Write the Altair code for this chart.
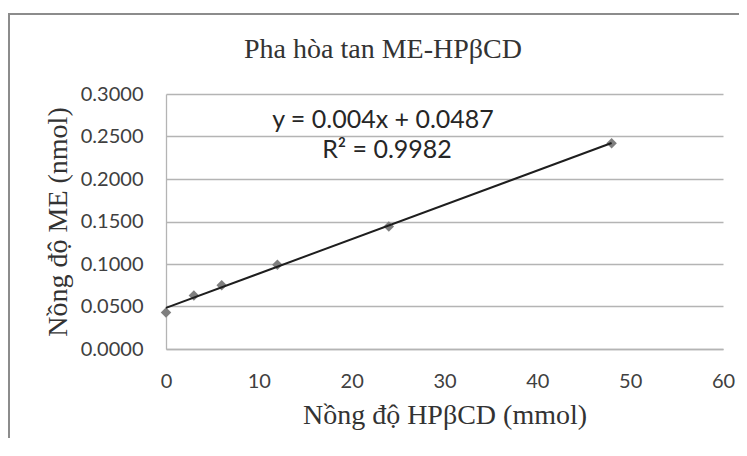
import altair as alt
import pandas as pd

# ---- data ----
x_vals = [0, 3, 6, 12, 24, 48]
y_vals = [0.043, 0.063, 0.075, 0.099, 0.144, 0.242]
x_ticks = [0, 10, 20, 30, 40, 50, 60]
y_ticks = [0.0, 0.05, 0.10, 0.15, 0.20, 0.25, 0.30]
title_text = "Pha hòa tan ME-HPβCD"
x_title = "Nồng độ HPβCD (mmol)"
y_title = "Nồng độ ME (nmol)"
equation_lines = ["y = 0.004x + 0.0487", "R² = 0.9982"]

df = pd.DataFrame({"x": x_vals, "y": y_vals})

GRID = "#b4b4b4"
LABEL = "#404040"
SERIF = "Liberation Serif"
SANS = "Lato"

xscale = alt.Scale(domain=[0, 60], nice=False, zero=False)
yscale = alt.Scale(domain=[0, 0.3], nice=False)

xaxis = alt.Axis(
    values=x_ticks, title=x_title, grid=False, ticks=False,
    domain=True, domainColor=GRID, domainWidth=1.3,
    labelFont=SANS, labelFontSize=20, labelColor=LABEL, labelPadding=22,
    labelFlush=False,
    titleFont=SERIF, titleFontSize=28, titleFontWeight="normal", titleColor="#333333",
    titleY=74, titleBaseline="alphabetic",
)
yaxis = alt.Axis(
    values=y_ticks, format=".4f", title=y_title, grid=True,
    gridColor=GRID, gridWidth=1.3, ticks=False,
    domain=True, domainColor=GRID, domainWidth=1.3,
    labelFont=SANS, labelFontSize=20, labelColor=LABEL, labelPadding=23,
    titleFont=SERIF, titleFontSize=28, titleFontWeight="normal", titleColor="#333333",
    titleX=-100, titleY=127.5, titleAngle=270, titleBaseline="alphabetic", titleAlign="center",
)

base = alt.Chart(df)

points = base.mark_point(shape="diamond", filled=True, size=110, color="#7f7f7f", opacity=1).encode(
    x=alt.X("x:Q", scale=xscale, axis=xaxis),
    y=alt.Y("y:Q", scale=yscale, axis=yaxis),
)

trend = base.transform_regression("x", "y").mark_line(color="#1e1e1e", strokeWidth=2).encode(
    x=alt.X("x:Q", scale=xscale),
    y=alt.Y("y:Q", scale=yscale),
)

eq1 = alt.Chart(alt.Data(values=[{"t": equation_lines[0]}])).mark_text(
    font=SANS, fontSize=25, color="#262626", align="center", baseline="alphabetic"
).encode(text="t:N", x=alt.value(217), y=alt.value(34))

eq2 = alt.Chart(alt.Data(values=[{"t": equation_lines[1]}])).mark_text(
    font=SANS, fontSize=25, color="#262626", align="center", baseline="alphabetic"
).encode(text="t:N", x=alt.value(221), y=alt.value(64))

title = alt.Chart(alt.Data(values=[{"t": title_text}])).mark_text(
    font=SERIF, fontSize=28, color="#333333", align="center", baseline="alphabetic"
).encode(text="t:N", x=alt.value(217), y=alt.value(-36))

border = alt.Chart(alt.Data(values=[{"a": 1}])).mark_rect(
    fillOpacity=0, stroke="#8c8c8c", strokeWidth=2
).encode(x=alt.value(-157), x2=alt.value(700), y=alt.value(-80), y2=alt.value(500))

chart = alt.layer(border, points, trend, eq1, eq2, title).properties(
    width=557, height=255,
    autosize=alt.AutoSizeParams(type="none"),
    padding={"left": 158, "top": 86, "right": 16, "bottom": 89},
).configure_view(strokeWidth=0)

chart.save("out.html", embed_options={"renderer": "svg", "actions": False})
